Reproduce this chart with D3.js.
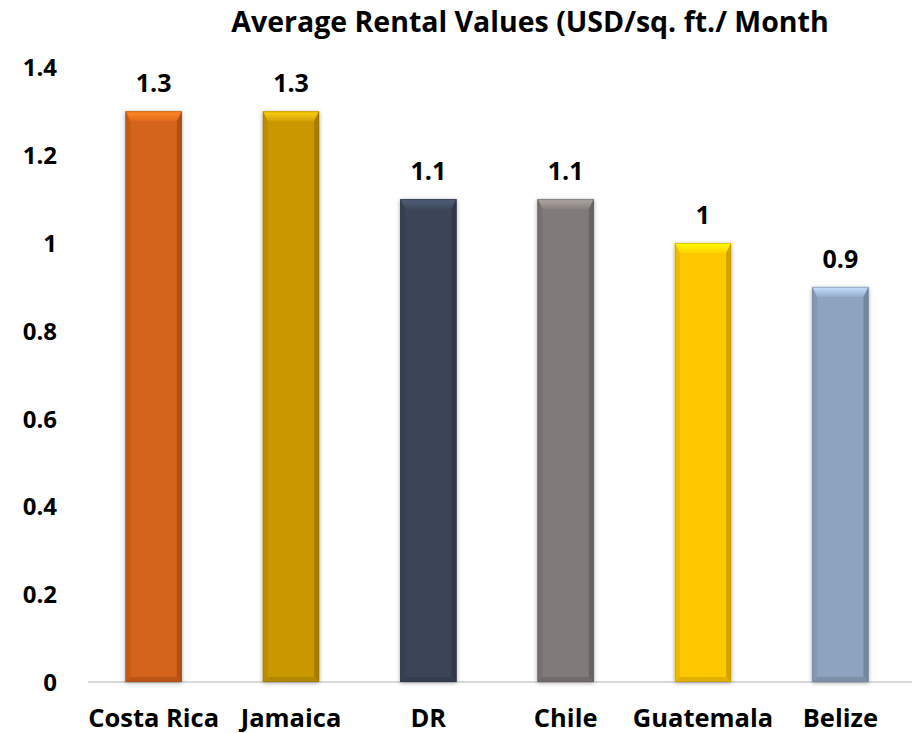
<!DOCTYPE html>
<html>
<head>
<meta charset="utf-8">
<script src="https://cdn.jsdelivr.net/npm/d3@7"></script>
<style>
  body { margin: 0; background: #fff; }
  text { font-family: "Open Sans", sans-serif; font-weight: bold; fill: #000; }
</style>
</head>
<body>
<script>
var countries = ['Costa Rica', 'Jamaica', 'DR', 'Chile', 'Guatemala', 'Belize'];
var rents = [1.3, 1.3, 1.1, 1.1, 1, 0.9];
var barColors = ['#d4631a', '#c99806', '#3a4557', '#807a78', '#fec800', '#8ea3bf'];
var yTicks = [0, 0.2, 0.4, 0.6, 0.8, 1, 1.2, 1.4];

var width = 912, height = 733;

var svg = d3.select('body').append('svg')
  .attr('width', width)
  .attr('height', height);

var x = d3.scaleBand()
  .domain(countries)
  .range([85, 909])
  .paddingInner(0.59)
  .paddingOuter(0.295);

var y = d3.scaleLinear()
  .domain([0, 1.4])
  .range([682, 67.4]);

var defs = svg.append('defs');

// soft shadow round the bars
var f = defs.append('filter').attr('id', 'shadow')
  .attr('x', '-30%').attr('y', '-10%').attr('width', '160%').attr('height', '120%');
f.append('feGaussianBlur').attr('in', 'SourceAlpha').attr('stdDeviation', 2);
f.append('feOffset').attr('dx', 0).attr('dy', 1).attr('result', 'b');
f.append('feComponentTransfer').append('feFuncA').attr('type', 'linear').attr('slope', 0.35);
var m = f.append('feMerge');
m.append('feMergeNode');
m.append('feMergeNode').attr('in', 'SourceGraphic');

// vertical gradient for the top bevel of each bar
barColors.forEach(function(c, i) {
  var g = defs.append('linearGradient').attr('id', 'bev' + i)
    .attr('x1', 0).attr('y1', 0).attr('x2', 0).attr('y2', 1);
  g.append('stop').attr('offset', '0%').attr('stop-color', d3.color(c).brighter(0.9));
  g.append('stop').attr('offset', '100%').attr('stop-color', d3.color(c).brighter(0.15));
});

// title
svg.append('text')
  .attr('x', 530)
  .attr('y', 32)
  .attr('text-anchor', 'middle')
  .style('font-size', '28.5px')
  .text('Average Rental Values (USD/sq. ft./ Month');

// axis line
svg.append('line')
  .attr('x1', 88).attr('x2', 912)
  .attr('y1', y(0)).attr('y2', y(0))
  .attr('stroke', '#d9d9d9')
  .attr('stroke-width', 2);

// y tick labels
svg.append('g')
  .selectAll('text')
  .data(yTicks)
  .enter()
  .append('text')
  .attr('x', 57)
  .attr('y', function(d) { return y(d) + 9; })
  .attr('text-anchor', 'end')
  .style('font-size', '24px')
  .text(function(d) { return d; });

// bars with bevel
var bw = x.bandwidth();
var bev = 10, side = 5;
var bars = svg.append('g')
  .selectAll('g')
  .data(rents)
  .enter()
  .append('g')
  .attr('filter', 'url(#shadow)')
  .attr('transform', function(d, i) { return 'translate(' + x(countries[i]) + ',0)'; });

bars.append('rect')
  .attr('x', 0)
  .attr('y', function(d) { return y(d); })
  .attr('width', bw)
  .attr('height', function(d) { return y(0) - y(d); })
  .attr('fill', function(d, i) { return barColors[i]; });

// top bevel
bars.append('path')
  .attr('d', function(d) {
    var t = y(d);
    return 'M0,' + t + 'H' + bw + 'L' + (bw - side) + ',' + (t + bev) + 'H' + side + 'Z';
  })
  .attr('fill', function(d, i) { return 'url(#bev' + i + ')'; });

// left side
bars.append('path')
  .attr('d', function(d) {
    var t = y(d), b = y(0);
    return 'M0,' + t + 'L' + side + ',' + (t + bev) + 'V' + (b - side) + 'L0,' + b + 'Z';
  })
  .attr('fill', function(d, i) { return d3.color(barColors[i]).darker(0.2); });

// right side
bars.append('path')
  .attr('d', function(d) {
    var t = y(d), b = y(0);
    return 'M' + bw + ',' + t + 'L' + (bw - side) + ',' + (t + bev) + 'V' + (b - side) + 'L' + bw + ',' + b + 'Z';
  })
  .attr('fill', function(d, i) { return d3.color(barColors[i]).darker(0.55); });

// bottom
bars.append('path')
  .attr('d', function(d) {
    var b = y(0);
    return 'M0,' + b + 'L' + side + ',' + (b - side) + 'H' + (bw - side) + 'L' + bw + ',' + b + 'Z';
  })
  .attr('fill', function(d, i) { return d3.color(barColors[i]).darker(0.35); });

bars.append('rect')
  .attr('x', 0.5)
  .attr('y', function(d) { return y(d) + 0.5; })
  .attr('width', bw - 1)
  .attr('height', function(d) { return y(0) - y(d) - 1; })
  .attr('fill', 'none')
  .attr('stroke', function(d, i) { return d3.color(barColors[i]).darker(0.8); })
  .attr('stroke-opacity', 0.5);

// value labels
svg.append('g')
  .selectAll('text')
  .data(rents)
  .enter()
  .append('text')
  .attr('x', function(d, i) { return x(countries[i]) + bw / 2; })
  .attr('y', function(d) { return y(d) - 19; })
  .attr('text-anchor', 'middle')
  .style('font-size', '25px')
  .text(function(d) { return d; });

// category labels
svg.append('g')
  .selectAll('text')
  .data(countries)
  .enter()
  .append('text')
  .attr('x', function(d) { return x(d) + bw / 2; })
  .attr('y', 727)
  .attr('text-anchor', 'middle')
  .style('font-size', '25.5px')
  .text(function(d) { return d; });
</script>
</body>
</html>
